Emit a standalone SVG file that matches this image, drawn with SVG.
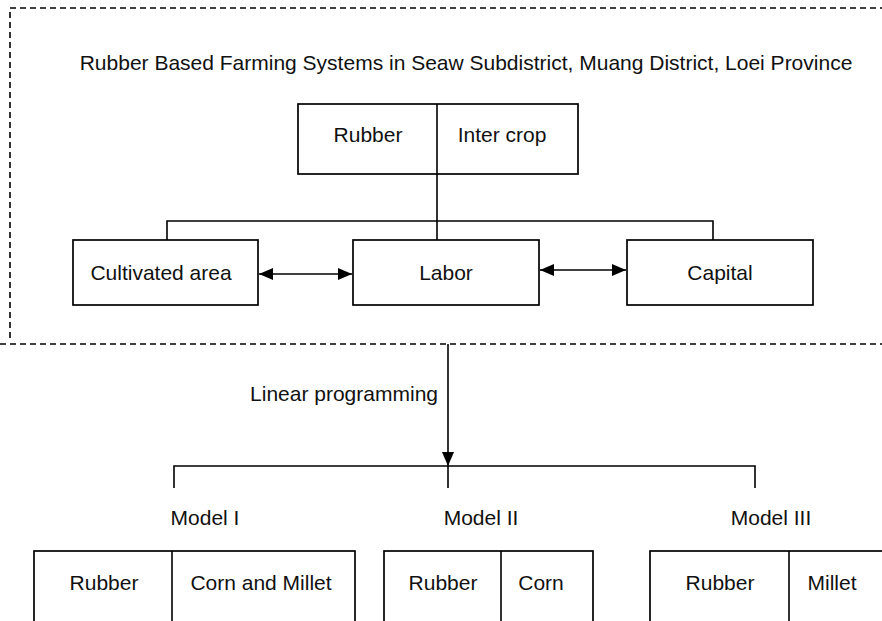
<svg xmlns="http://www.w3.org/2000/svg" width="882" height="621" viewBox="0 0 882 621">
<defs>
<style>
.box{fill:#fff;stroke:#000;stroke-width:1.7}
.ln{fill:none;stroke:#000;stroke-width:1.6}
.dash{fill:none;stroke:#000;stroke-width:1.6;stroke-dasharray:6,4}
text{font-family:"Liberation Sans",Arial,sans-serif;font-size:21px;fill:#111;text-anchor:middle}
</style>
<marker id="ah" viewBox="0 0 14 12" refX="14" refY="6" markerWidth="14" markerHeight="12" markerUnits="userSpaceOnUse" orient="auto-start-reverse">
<path d="M0,0 L14,6 L0,12 Z" fill="#000"/>
</marker>
</defs>
<rect width="882" height="621" fill="#fff"/>
<g id="frame">
<path class="dash" d="M10,338 V8 H882"/>
<path class="dash" d="M0,344 H882"/>
</g>
<text id="title" x="466" y="70">Rubber Based Farming Systems in Seaw Subdistrict, Muang District, Loei Province</text>
<g id="connectors">
<path class="ln" d="M437,174 V240 M167,240 V221 H713 V240"/>
<path class="ln" d="M259,274 H352" marker-start="url(#ah)" marker-end="url(#ah)" stroke-width="2"/>
<path class="ln" d="M540,270 H626" marker-start="url(#ah)" marker-end="url(#ah)" stroke-width="2"/>
<path class="ln" d="M448,344 V466" marker-end="url(#ah)" stroke-width="2"/>
<path class="ln" d="M174,488 V466 H755 V488 M448,466 V488"/>
<text x="438" y="401" style="text-anchor:end">Linear programming</text>
</g>
<g id="top">
<rect class="box" x="298" y="104" width="280" height="70"/>
<line class="ln" x1="437" y1="104" x2="437" y2="174"/>
<text x="368" y="142">Rubber</text>
<text x="502" y="142">Inter crop</text>
</g>
<g id="cultivated">
<rect class="box" x="73" y="240" width="185" height="65"/>
<text x="161" y="280">Cultivated area</text>
</g>
<g id="labor">
<rect class="box" x="353" y="240" width="186" height="65"/>
<text x="446" y="280">Labor</text>
</g>
<g id="capital">
<rect class="box" x="627" y="240" width="186" height="65"/>
<text x="720" y="280">Capital</text>
</g>
<g id="model1">
<text x="205" y="525">Model I</text>
<rect class="box" x="34" y="551" width="321" height="80"/>
<line class="ln" x1="172" y1="551" x2="172" y2="621"/>
<text x="104" y="590">Rubber</text>
<text x="261" y="590">Corn and Millet</text>
</g>
<g id="model2">
<text x="481" y="525">Model II</text>
<rect class="box" x="384" y="551" width="209" height="80"/>
<line class="ln" x1="501" y1="551" x2="501" y2="621"/>
<text x="443" y="590">Rubber</text>
<text x="541" y="590">Corn</text>
</g>
<g id="model3">
<text x="771" y="525">Model III</text>
<rect class="box" x="650" y="551" width="260" height="80"/>
<line class="ln" x1="789" y1="551" x2="789" y2="621"/>
<text x="720" y="590">Rubber</text>
<text x="832" y="590">Millet</text>
</g>
</svg>
